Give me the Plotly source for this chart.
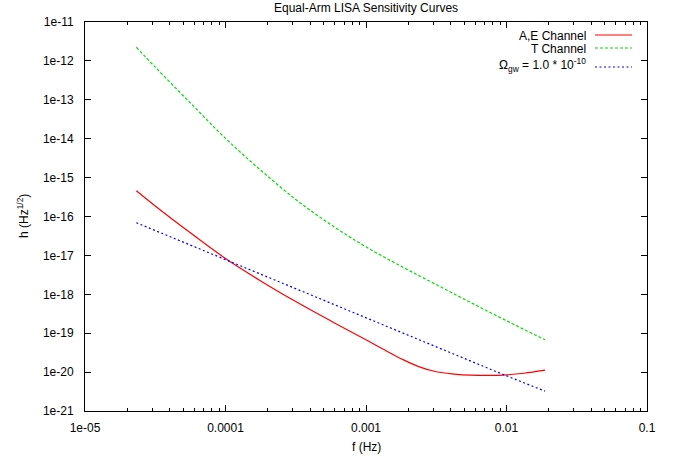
import plotly.graph_objects as go

# A,E channel sensitivity
f_ae = [2.32e-5, 3.16e-5, 5.62e-5, 1.0e-4, 1.78e-4, 3.16e-4, 5.62e-4, 1.0e-3,
        1.33e-3, 1.78e-3, 2.37e-3, 3.16e-3, 4.22e-3, 5.62e-3, 7.50e-3, 1.0e-2,
        1.33e-2, 1.88e-2]
h_ae = [4.57e-16, 1.86e-16, 3.80e-17, 8.32e-18, 2.21e-18, 6.53e-19, 2.07e-19,
        6.76e-20, 3.85e-20, 2.21e-20, 1.38e-20, 1.02e-20, 8.91e-21, 8.32e-21,
        8.22e-21, 8.51e-21, 9.33e-21, 1.12e-20]

# T channel sensitivity
f_t = [2.32e-5, 3.16e-5, 5.62e-5, 1.0e-4, 1.78e-4, 3.16e-4, 5.62e-4, 1.0e-3,
       1.78e-3, 3.16e-3, 5.62e-3, 1.0e-2, 1.88e-2]
h_t = [2.24e-12, 6.92e-13, 8.32e-14, 1.02e-14, 1.55e-15, 2.75e-16, 6.17e-17,
       1.66e-17, 5.25e-18, 1.78e-18, 6.03e-19, 2.09e-19, 6.76e-20]

# Stochastic background with Omega_gw = 1e-10
f_gw = [2.32e-5, 1.0e-4, 3.39e-4, 1.75e-3, 9.59e-3, 1.88e-2]
h_gw = [6.92e-17, 7.76e-18, 1.26e-18, 1.07e-19, 8.51e-21, 3.24e-21]

x_tickvals = [1e-5, 1e-4, 1e-3, 1e-2, 1e-1]
x_ticktext = ["1e-05", "0.0001", "0.001", "0.01", "0.1"]
y_exps = list(range(-21, -10))
y_tickvals = [10.0 ** e for e in y_exps]
y_ticktext = ["1e%d" % e for e in y_exps]
x_minor = [m * 10.0 ** e for e in range(-5, -1) for m in range(2, 10)]

W, H = 683, 461
L, R, T, B = 85, 36, 22, 50
PW, PH = W - L - R, H - T - B


def px(xp):
    return (xp - L) / PW


def py(yp):
    return (H - B - yp) / PH


FONT = "Liberation Sans, Arial, Helvetica, sans-serif"
RED, GREEN, BLUE = "#ff0000", "#00dd00", "#0000ff"
GREEN_DASH = "3px,2px"
BLUE_DASH = "2px,2.5px"

fig = go.Figure()
fig.add_trace(go.Scatter(x=f_ae, y=h_ae, mode="lines", name="A,E Channel",
                         line=dict(color=RED, width=1.2, shape="spline")))
fig.add_trace(go.Scatter(x=f_t, y=h_t, mode="lines", name="T Channel",
                         line=dict(color=GREEN, width=1.2, dash=GREEN_DASH,
                                   shape="spline")))
fig.add_trace(go.Scatter(x=f_gw, y=h_gw, mode="lines",
                         name="Ω<sub>gw</sub> = 1.0 * 10<sup>-10</sup>",
                         line=dict(color=BLUE, width=1.2, dash=BLUE_DASH)))

axis_common = dict(
    type="log", showline=True, linecolor="black", linewidth=1, mirror="allticks",
    ticks="inside", ticklen=6, tickcolor="black", tickwidth=1, showgrid=False,
    zeroline=False, tickmode="array", tickfont=dict(family=FONT, size=12, color="black"),
)

fig.update_xaxes(range=[-5, -1], tickvals=x_tickvals, ticktext=x_ticktext,
                 ticklabelstandoff=6,
                 minor=dict(ticks="inside", ticklen=3, tickcolor="black",
                            tickmode="array", tickvals=x_minor, showgrid=False),
                 **axis_common)
fig.update_yaxes(range=[-21, -11], tickvals=y_tickvals, ticktext=y_ticktext,
                 ticklabelstandoff=8, **axis_common)

annotations = [
    dict(text="Equal-Arm LISA Sensitivity Curves", x=0.5, y=py(8),
         xanchor="center", yanchor="middle"),
    dict(text="f (Hz)", x=0.5, y=py(447), xanchor="center", yanchor="middle"),
    dict(text="h (Hz<sup>1/2</sup>)", x=px(23), y=py(216), textangle=-90,
         xanchor="center", yanchor="middle"),
]

# Key: right-aligned labels followed by line samples
key_rows = [("A,E Channel", 35, 35, 13, RED, None),
            ("T Channel", 48, 48, 13, GREEN, GREEN_DASH),
            ("Ω<sub>gw</sub> = 1.0 * 10<sup>-10</sup>", 65, 67, None, BLUE, BLUE_DASH)]
shapes = []
for label, y_text, y_line, box_h, color, dash in key_rows:
    entry = dict(text=label, x=px(587), y=py(y_text), xanchor="right",
                 yanchor="middle", borderpad=0)
    if box_h:
        entry["height"] = box_h
    annotations.append(entry)
    line = dict(color=color, width=1.2)
    if dash:
        line["dash"] = dash
    shapes.append(dict(type="line", xref="paper", yref="paper",
                       x0=px(595), x1=px(632), y0=py(y_line), y1=py(y_line),
                       line=line))

for a in annotations:
    a.update(xref="paper", yref="paper", showarrow=False,
             font=dict(family=FONT, size=12, color="black"))

fig.update_layout(
    width=W, height=H, margin=dict(l=L, r=R, t=T, b=B),
    paper_bgcolor="white", plot_bgcolor="white", showlegend=False,
    annotations=annotations, shapes=shapes,
    font=dict(family=FONT, size=12, color="black"),
)

fig.write_html("out.html")
